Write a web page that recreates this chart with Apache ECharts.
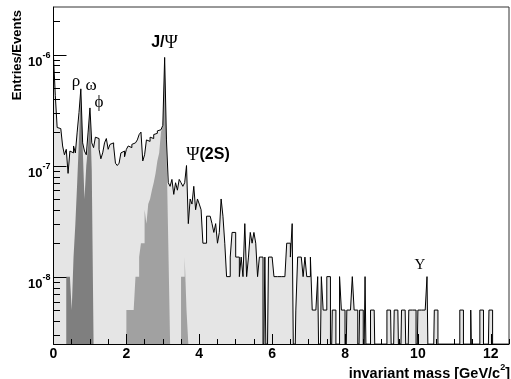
<!DOCTYPE html>
<html>
<head>
<meta charset="utf-8">
<script src="https://cdn.jsdelivr.net/npm/echarts@6/dist/echarts.min.js"></script>
<style>
html, body { margin: 0; padding: 0; background: #fff; }
#chart { width: 511px; height: 379px; }
</style>
</head>
<body>
<div id="chart"></div>
<script>
// Dimuon invariant-mass spectrum, entries per event, 0.05 GeV/c^2 bins from 0.
const binWidth = 0.05;
const entryWeight = 5.05e-9;          // one entry divided by the number of events

// All pairs, bins 0 .. 249 (0 - 12.5 GeV/c^2)
const totalCounts = [
  190, 85, 44, 43, 43, 30, 25, 28, 17, 27,
  26, 30, 26, 40, 60, 98, 32, 27, 25, 40,
  66, 32, 29, 36, 35, 28, 23, 26, 32, 35,
  28, 31, 32, 30, 21, 20, 21, 26, 27, 24,
  28, 30, 29, 31, 32, 31, 34, 38, 40, 22,
  25, 34, 33, 36, 35, 38, 39, 41, 42, 43,
  46, 188, 34, 14, 13, 15, 11, 14, 12, 15,
  14, 13, 14, 20, 6, 10, 9, 13, 8, 10,
  9, 8, 4, 4, 7, 7, 7, 6, 5, 6,
  4, 5, 10, 7, 4, 2, 2, 3, 5, 5,
  3, 3, 2, 3, 2, 6, 2, 3, 5, 4,
  5, 4, 2, 3, 3, 0, 3, 0, 3, 3,
  3, 2, 2, 2, 2, 2, 2, 2, 4, 4,
  3, 6, 0, 1, 3, 3, 3, 2, 3, 2,
  2, 3, 1, 1, 1, 2, 0, 2, 1, 1,
  2, 2, 0, 1, 1, 0, 0, 2, 1, 1,
  0, 1, 1, 1, 2, 1, 1, 0, 1, 1,
  0, 2, 0, 0, 1, 1, 1, 0, 0, 0,
  0, 0, 0, 1, 1, 1, 0, 1, 1, 1,
  0, 1, 1, 1, 0, 1, 1, 1, 1, 0,
  1, 1, 1, 1, 1, 2, 0, 0, 0, 1,
  1, 0, 0, 0, 0, 0, 0, 0, 0, 0,
  0, 0, 0, 1, 1, 0, 0, 0, 0, 1,
  0, 0, 0, 0, 1, 1, 0, 0, 0, 1,
  1, 0, 0, 0, 0, 0, 0, 0, 0, 0
];

// Light vector mesons (rho, omega, phi), from bin 7
const lightMesonFirstBin = 7;
const lightMesonCounts = [2, 2, 2, 1, 3, 6, 14, 35, 95, 30, 10, 20, 30, 64, 18];

// J/psi, from bin 40
const jpsiFirstBin = 40;
const jpsiCounts = [1, 1, 1, 1, 1, 2, 2, 3, 4, 4, 8, 6, 9, 10, 12, 14, 17, 22, 26, 40, 45, 180, 30, 4];

// psi(2S), from bin 70
const psi2sFirstBin = 70;
const psi2sCounts = [2, 2, 3, 1];

// Axis ticks
const xLabelTicks = [0, 2, 4, 6, 8, 10, 12];
const xMinorTicks = [0.5, 1, 1.5, 2.5, 3, 3.5, 4.5, 5, 5.5, 6.5, 7, 7.5, 8.5, 9, 9.5, 10.5, 11, 11.5, 12.5];
const yDecades = [1e-8, 1e-7, 1e-6];

const SANS = '"Liberation Sans", Arial, Helvetica, sans-serif';
const SERIF = '"Liberation Serif", "Times New Roman", serif';

const yMin = 2.5e-9, yMax = 2.7e-6;
const emptyLevel = entryWeight * 0.1;   // empty bins fall below the frame

// minor log ticks: 2..9 times each decade inside the range
const yMinorTicks = [];
for (let e = -9; e <= -6; e++) {
  for (let m = 2; m <= 9; m++) {
    const v = m * Math.pow(10, e);
    if (v > yMin && v < yMax) yMinorTicks.push(v);
  }
}

function toEntries(c) { return c > 0 ? c * entryWeight : emptyLevel; }

// histogram bins as a step outline: one point per bin lower edge, plus the last upper edge
function stepData(counts, firstBin) {
  const pts = counts.map((c, i) => [(firstBin + i) * binWidth, toEntries(c)]);
  pts.push([(firstBin + counts.length) * binWidth, toEntries(counts[counts.length - 1])]);
  return pts;
}

function filledHist(name, counts, firstBin, color, z) {
  return {
    name, type: 'line', step: 'end', z,
    data: stepData(counts, firstBin),
    symbol: 'none', showSymbol: false, silent: true,
    lineStyle: { width: 0, opacity: 0 },
    areaStyle: { color, opacity: 1, origin: 'start' },
    xAxisIndex: 0, yAxisIndex: 0
  };
}

const chart = echarts.init(document.getElementById('chart'), null, { renderer: 'canvas' });

chart.setOption({
  animation: false,
  backgroundColor: '#fff',
  grid: {
    left: 53.5, right: 2, top: 7, bottom: 35,
    show: true, borderColor: '#333', borderWidth: 1, backgroundColor: 'rgba(0,0,0,0)'
  },
  xAxis: [
    {
      type: 'value', min: 0, max: 12.5, position: 'bottom', z: 10,
      axisLine: { show: true, onZero: false, lineStyle: { color: '#000', width: 1 } },
      axisTick: { show: true, inside: true, length: 10, lineStyle: { color: '#000' }, customValues: xLabelTicks },
      axisLabel: {
        customValues: xLabelTicks, margin: 3,
        fontFamily: SANS, fontWeight: 'bold', fontSize: 14, color: '#000'
      },
      splitLine: { show: false }
    },
    {
      type: 'value', min: 0, max: 12.5, position: 'bottom', z: 10,
      axisLine: { show: false },
      axisTick: { show: true, inside: true, length: 5, lineStyle: { color: '#000' }, customValues: xMinorTicks },
      axisLabel: { show: false },
      splitLine: { show: false }
    }
  ],
  yAxis: [
    {
      type: 'log', logBase: 10, min: yMin, max: yMax, position: 'left', z: 10,
      axisLine: { show: true, lineStyle: { color: '#000', width: 1 } },
      axisTick: { show: true, inside: true, length: 13, lineStyle: { color: '#000' }, customValues: yDecades },
      axisLabel: {
        customValues: yDecades, margin: 3, padding: [10, 0, 0, 0],
        formatter: v => '{b|10}{e|' + Math.round(Math.log10(v)) + '}',
        rich: {
          b: { fontFamily: SANS, fontWeight: 'bold', fontSize: 13, color: '#000', verticalAlign: 'bottom', lineHeight: 18 },
          e: { fontFamily: SANS, fontWeight: 'bold', fontSize: 9, color: '#000', verticalAlign: 'top' }
        }
      },
      splitLine: { show: false }
    },
    {
      type: 'log', logBase: 10, min: yMin, max: yMax, position: 'left', z: 10,
      axisLine: { show: false },
      axisTick: { show: true, inside: true, length: 6.5, lineStyle: { color: '#000' }, customValues: yMinorTicks },
      axisLabel: { show: false },
      splitLine: { show: false }
    }
  ],
  series: [
    filledHist('all pairs', totalCounts, 0, '#e5e5e5', 2),
    filledHist('rho, omega, phi', lightMesonCounts, lightMesonFirstBin, '#7f7f7f', 3),
    filledHist('J/psi', jpsiCounts, jpsiFirstBin, '#a1a1a1', 3),
    filledHist('psi(2S)', psi2sCounts, psi2sFirstBin, '#a1a1a1', 3),
    {
      name: 'all pairs outline', type: 'line', step: 'end', z: 5,
      data: stepData(totalCounts, 0),
      symbol: 'none', showSymbol: false, silent: true,
      lineStyle: { color: '#000', width: 1 },
      xAxisIndex: 0, yAxisIndex: 0
    }
  ],
  graphic: [
    {
      type: 'text', x: 17, y: 10, rotation: Math.PI / 2,
      style: { text: 'Entries/Events', fontFamily: SANS, fontWeight: 'bold', fontSize: 13, fill: '#000', align: 'right', verticalAlign: 'middle' }
    },
    {
      type: 'text', x: 510, y: 372,
      style: {
        text: '{t|invariant mass [GeV/c}{s|2}{t|]}', align: 'right', verticalAlign: 'middle',
        rich: {
          t: { fontFamily: SANS, fontWeight: 'bold', fontSize: 14.5, fill: '#000', verticalAlign: 'bottom', lineHeight: 18 },
          s: { fontFamily: SANS, fontWeight: 'bold', fontSize: 9, fill: '#000', verticalAlign: 'top' }
        }
      }
    },
    { type: 'text', x: 76, y: 82, style: { text: 'ρ', fontFamily: SERIF, fontSize: 17, fill: '#000', align: 'center', verticalAlign: 'middle' } },
    { type: 'text', x: 91, y: 86, style: { text: 'ω', fontFamily: SERIF, fontSize: 17, fill: '#000', align: 'center', verticalAlign: 'middle' } },
    { type: 'text', x: 99, y: 103, style: { text: 'ϕ', fontFamily: SERIF, fontSize: 17, fill: '#000', align: 'center', verticalAlign: 'middle' } },
    {
      type: 'text', x: 164.5, y: 43,
      style: {
        text: '{a|J/}{g|Ψ}', align: 'center', verticalAlign: 'middle',
        rich: {
          a: { fontFamily: SANS, fontWeight: 'bold', fontSize: 16, fill: '#000' },
          g: { fontFamily: SERIF, fontSize: 18, fill: '#000' }
        }
      }
    },
    {
      type: 'text', x: 208, y: 155,
      style: {
        text: '{g|Ψ}{a|(2S)}', align: 'center', verticalAlign: 'middle',
        rich: {
          a: { fontFamily: SANS, fontWeight: 'bold', fontSize: 16, fill: '#000' },
          g: { fontFamily: SERIF, fontSize: 18, fill: '#000' }
        }
      }
    },
    { type: 'text', x: 420, y: 265, style: { text: 'Υ', fontFamily: SERIF, fontSize: 15, fill: '#000', align: 'center', verticalAlign: 'middle' } }
  ]
});
</script>
</body>
</html>
